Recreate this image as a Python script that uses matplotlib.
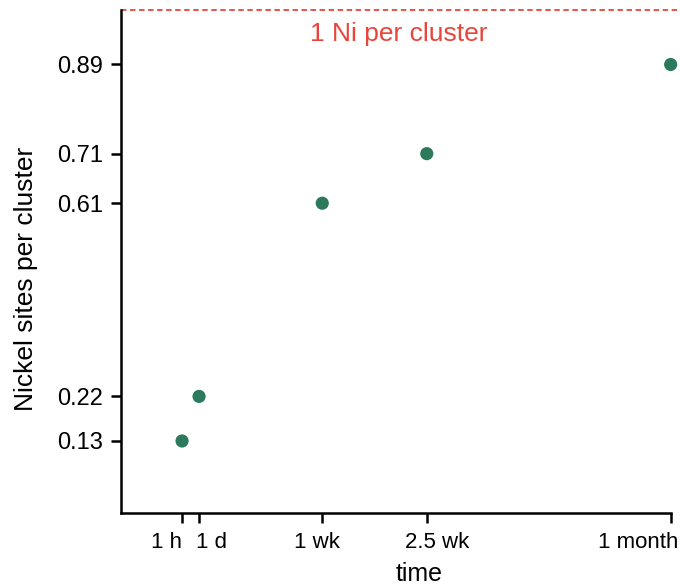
import matplotlib
matplotlib.use("Agg")
import matplotlib.pyplot as plt
from matplotlib.transforms import ScaledTranslation

# Sampling times (label and position along the time axis) and measured Ni occupancy
time_labels = ["1 h", "1 d", "1 wk", "2.5 wk", "1 month"]
time_pos = [0.0, 1.0, 8.25, 14.4, 28.75]
ni_sites = [0.13, 0.22, 0.61, 0.71, 0.89]
full_occupancy = 1.0

# Horizontal placement of each time label relative to its tick (alignment, shift in px)
label_align = [("right", 0), ("left", -3), ("center", -5), ("center", 10), ("right", 8)]

plt.rcParams["font.family"] = ["Liberation Sans", "DejaVu Sans"]

fig = plt.figure(figsize=(6.8, 5.88), dpi=100)
ax = fig.add_axes([0.178, 0.1276, 0.822, 0.8554])

ax.scatter(time_pos, ni_sites, s=90, color="#2b7a5b", edgecolors="none",
           zorder=3, clip_on=False)

ax.axhline(full_occupancy, color="#e8453c", linestyle=(0, (3, 2)),
           linewidth=1.3, clip_on=False)
ax.text(0.497, full_occupancy - 0.048, "1 Ni per cluster", color="#e8453c",
        fontsize=19, ha="center", va="center",
        transform=ax.get_yaxis_transform())

ax.set_xlim(-3.59, 29.3)
ax.set_ylim(-0.0153, 1.0)

ax.set_xticks(time_pos)
ax.set_xticklabels(time_labels)
ax.set_yticks(ni_sites)
ax.set_yticklabels([f"{v:.2f}" for v in ni_sites])

for side in ("top", "right"):
    ax.spines[side].set_visible(False)
for side in ("left", "bottom"):
    ax.spines[side].set_linewidth(1.8)
ax.spines["bottom"].set_bounds(-3.59, time_pos[-1])

ax.tick_params(axis="both", direction="out", length=7, width=1.8,
               colors="black")
ax.tick_params(axis="y", pad=6, labelsize=17)
ax.tick_params(axis="x", pad=6.5, labelsize=16)

for lbl, (ha, dx) in zip(ax.get_xticklabels(), label_align):
    lbl.set_ha(ha)
    lbl.set_transform(lbl.get_transform()
                      + ScaledTranslation(dx / 100, 0, fig.dpi_scale_trans))

ax.set_xlabel("time", fontsize=18, va="top")
ax.set_ylabel("Nickel sites per cluster", fontsize=19)
ax.xaxis.set_label_coords(0.533, -0.098)
ax.yaxis.set_label_coords(-0.148, 0.465)

fig.savefig("out.png", dpi=100)
